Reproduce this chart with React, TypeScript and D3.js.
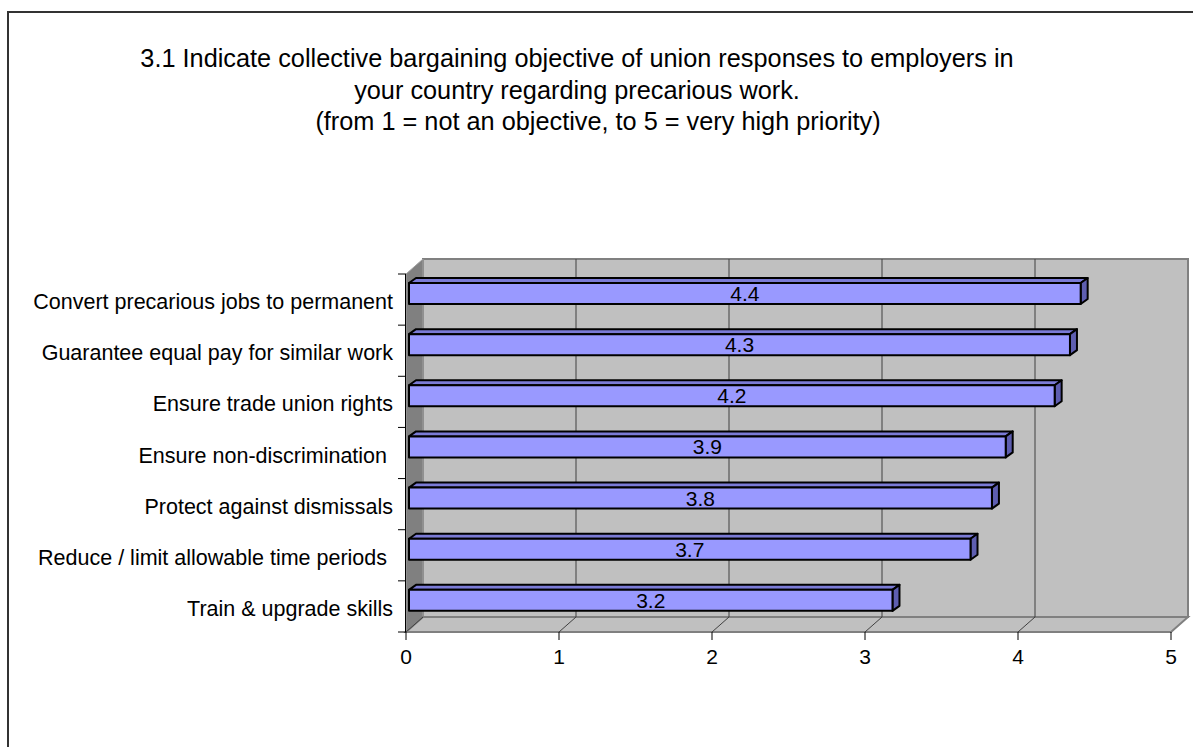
import React from "react";
import * as d3 from "d3";

const titleLines = [
  "3.1 Indicate collective bargaining objective of union responses to employers in",
  "your country regarding precarious work.",
  "(from 1 = not an objective, to 5 = very high priority)",
];
const categories = [
  "Convert precarious jobs to permanent",
  "Guarantee equal pay for similar work",
  "Ensure trade union rights",
  "Ensure non-discrimination ",
  "Protect against dismissals",
  "Reduce / limit allowable time periods ",
  "Train & upgrade skills",
];
const values = [4.39, 4.32, 4.22, 3.9, 3.81, 3.67, 3.16];
const xTicks = [0, 1, 2, 3, 4, 5];

const W = 1193;
const H = 747;
const font = "'Liberation Sans', Arial, sans-serif";

export default function App() {
  const x = d3.scaleLinear().domain([0, 5]).range([406, 1171]);
  const y = d3.scaleBand<string>().domain(categories).range([274, 632]);
  const top = 274;
  const bottom = 632;
  const DX = 17;
  const DY = -15;
  const bw = y.bandwidth();
  const barOff = 9;
  const barH = 21;
  const bx0 = 3;
  const bdx = 7;
  const bdy = -5;
  const titleX = [577, 577, 598];

  return (
    <svg
      width={W}
      height={H}
      style={{ position: "absolute", left: 0, top: 0, background: "#fff" }}
      fontFamily={font}
    >
      <rect x={8} y={12} width={1300} height={900} fill="#fff" stroke="#333" strokeWidth={2} />
      {titleLines.map((t, i) => (
        <text key={i} x={titleX[i]} y={67 + i * 31.5} textAnchor="middle" fontSize={25.3} fill="#000">
          {t}
        </text>
      ))}
      {/* back wall */}
      <rect
        x={x(0) + DX}
        y={top + DY}
        width={x(5) - x(0)}
        height={bottom - top}
        fill="#C0C0C0"
        stroke="#808080"
        strokeWidth={2}
      />
      {/* side wall */}
      <polygon
        points={`${x(0)},${top} ${x(0) + DX},${top + DY} ${x(0) + DX},${bottom + DY} ${x(0)},${bottom}`}
        fill="#808080"
        stroke="#A0A0A0"
        strokeWidth={1}
      />
      {/* floor */}
      <polygon
        points={`${x(0)},${bottom} ${x(5)},${bottom} ${x(5) + DX},${bottom + DY} ${x(0) + DX},${bottom + DY}`}
        fill="#C0C0C0"
        stroke="#808080"
        strokeWidth={2}
      />
      {/* gridlines */}
      {xTicks.slice(1, -1).map((t) => (
        <g key={t} stroke="#404040" strokeWidth={1}>
          <line x1={x(t) + DX} x2={x(t) + DX} y1={top + DY} y2={bottom + DY} />
          <line x1={x(t)} y1={bottom} x2={x(t) + DX} y2={bottom + DY} />
        </g>
      ))}
      <line x1={x(0)} y1={bottom} x2={x(0) + DX} y2={bottom + DY} stroke="#404040" />
      {/* axes */}
      <line x1={x(0) - 0.5} x2={x(0) - 0.5} y1={top} y2={bottom} stroke="#000" />
      {categories.map((c) => (
        <line key={c} x1={x(0) - 8} x2={x(0)} y1={y(c)!} y2={y(c)!} stroke="#000" />
      ))}
      <line x1={x(0) - 8} x2={x(0)} y1={bottom} y2={bottom} stroke="#000" />
      {xTicks.map((t) => (
        <g key={t}>
          <line x1={x(t)} x2={x(t)} y1={bottom} y2={bottom + 8} stroke="#000" />
          <text x={x(t)} y={664} textAnchor="middle" fontSize={21} fill="#000">
            {t}
          </text>
        </g>
      ))}
      {/* bars */}
      {categories.map((c, i) => {
        const x0 = x(0) + bx0;
        const x1 = x(values[i]) + bx0;
        const y0 = y(c)! + barOff;
        const y1 = y0 + barH;
        return (
          <g key={c} stroke="#000" strokeWidth={2} strokeLinejoin="round">
            <polygon
              points={`${x0},${y0} ${x0 + bdx},${y0 + bdy} ${x1 + bdx},${y0 + bdy} ${x1},${y0}`}
              fill="#7B7BD6"
            />
            <polygon
              points={`${x1},${y0} ${x1 + bdx},${y0 + bdy} ${x1 + bdx},${y1 + bdy} ${x1},${y1}`}
              fill="#5E5EB0"
            />
            <rect x={x0} y={y0} width={x1 - x0} height={barH} fill="#9999FF" />
            <text
              x={(x0 + x1) / 2}
              y={y0 + barH / 2 + 7.5}
              textAnchor="middle"
              fontSize={21}
              fill="#000"
              stroke="none"
            >
              {values[i].toFixed(1)}
            </text>
          </g>
        );
      })}
      {/* category labels */}
      {categories.map((c) => (
        <text
          key={c}
          x={393}
          y={y(c)! + bw / 2 + 9.5}
          textAnchor="end"
          fontSize={21.5}
          fill="#000"
          style={{ whiteSpace: "pre" }}
        >
          {c}
        </text>
      ))}
    </svg>
  );
}
